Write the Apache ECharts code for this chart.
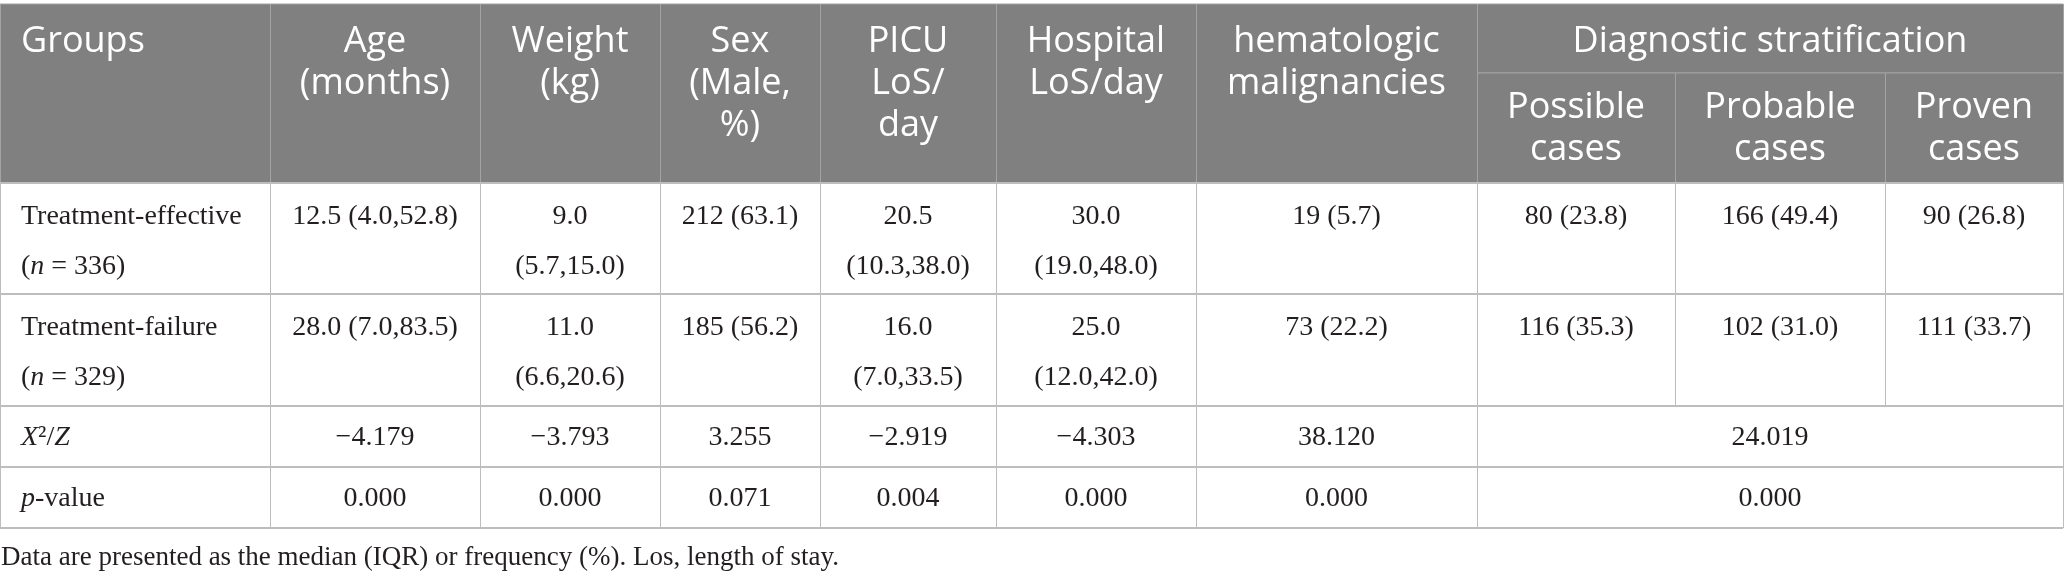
<!DOCTYPE html>
<html>
<head>
<meta charset="utf-8">
<title>Treatment groups table</title>
<script src="https://cdn.jsdelivr.net/npm/echarts@6/dist/echarts.min.js"></script>
<style>
	html, body { margin: 0; padding: 0; background: #fff; }
	#chart { width: 2065px; height: 581px; }
</style>
</head>
<body>
<div id="chart"></div>
<script>
	//------------------------数据-开始------------------//
	var headerTop = ['Groups', 'Age\n(months)', 'Weight\n(kg)', 'Sex\n(Male,\n%)', 'PICU\nLoS/\nday', 'Hospital\nLoS/day', 'hematologic\nmalignancies'];
	var spanHeader = 'Diagnostic stratification';
	var subHeaders = ['Possible\ncases', 'Probable\ncases', 'Proven\ncases'];
	var rowLabels = ['Treatment-effective\n({i|n} = 336)', 'Treatment-failure\n({i|n} = 329)', '{i|X}²/{i|Z}', '{i|p}-value'];
	var effectiveRow = ['12.5 (4.0,52.8)', '9.0\n(5.7,15.0)', '212 (63.1)', '20.5\n(10.3,38.0)', '30.0\n(19.0,48.0)', '19 (5.7)', '80 (23.8)', '166 (49.4)', '90 (26.8)'];
	var failureRow = ['28.0 (7.0,83.5)', '11.0\n(6.6,20.6)', '185 (56.2)', '16.0\n(7.0,33.5)', '25.0\n(12.0,42.0)', '73 (22.2)', '116 (35.3)', '102 (31.0)', '111 (33.7)'];
	var statRow = ['−4.179', '−3.793', '3.255', '−2.919', '−4.303', '38.120', '24.019'];
	var pRow = ['0.000', '0.000', '0.071', '0.004', '0.000', '0.000', '0.000'];
	var footnote = 'Data are presented as the median (IQR) or frequency (%). Los, length of stay.';
	//------------------------数据-结束------------------//

	// layout (pixel units of the hidden axes)
	var colEdges = [0, 270, 480, 660, 820, 996, 1196, 1477, 1675, 1885, 2063];
	var rowEdges = [4, 73, 183, 294, 406, 467, 528];

	var headFill = '#7f807f';
	var headLine = '#a2a3a2';
	var bodyLine = '#bdbdbd';
	var inkColor = '#231f20';
	var sansFont = 'Open Sans';
	var serifFont = 'Liberation Serif';

	// build cell list
	var cells = [];
	headerTop.forEach(function (t, i) {
		cells.push({ c0: i, c1: i + 1, r0: 0, r1: 2, text: t });
	});
	cells.push({ c0: 7, c1: 10, r0: 0, r1: 1, text: spanHeader });
	subHeaders.forEach(function (t, i) {
		cells.push({ c0: 7 + i, c1: 8 + i, r0: 1, r1: 2, text: t });
	});
	[effectiveRow, failureRow].forEach(function (row, k) {
		cells.push({ c0: 0, c1: 1, r0: 2 + k, r1: 3 + k, text: rowLabels[k] });
		row.forEach(function (t, i) {
			cells.push({ c0: 1 + i, c1: 2 + i, r0: 2 + k, r1: 3 + k, text: t });
		});
	});
	[statRow, pRow].forEach(function (row, k) {
		cells.push({ c0: 0, c1: 1, r0: 4 + k, r1: 5 + k, text: rowLabels[2 + k] });
		row.forEach(function (t, i) {
			var last = i === row.length - 1;
			cells.push({ c0: 1 + i, c1: last ? 10 : 2 + i, r0: 4 + k, r1: 5 + k, text: t });
		});
	});

	function renderCell(params, api)
	{
		var c = cells[params.dataIndex];
		var a = api.coord([colEdges[c.c0], rowEdges[c.r0]]);
		var b = api.coord([colEdges[c.c1], rowEdges[c.r1]]);
		var w = b[0] - a[0], h = b[1] - a[1];
		var head = c.r0 < 2;
		var lineColor = head ? headLine : bodyLine;
		var hw = head ? 1 : 2;
		var children = [{
			type: 'rect',
			shape: { x: a[0], y: a[1], width: w, height: h },
			style: { fill: head ? headFill : '#fff' }
		}];
		// borders
		children.push({ type: 'line', shape: { x1: a[0], y1: a[1], x2: b[0], y2: a[1] }, style: { stroke: lineColor, lineWidth: hw } });
		children.push({ type: 'line', shape: { x1: a[0], y1: b[1], x2: b[0], y2: b[1] }, style: { stroke: head && c.r1 < 2 ? headLine : bodyLine, lineWidth: head && c.r1 < 2 ? 1 : 2 } });
		children.push({ type: 'line', shape: { x1: a[0] + 0.5, y1: a[1], x2: a[0] + 0.5, y2: b[1] }, style: { stroke: lineColor, lineWidth: 1 } });
		children.push({ type: 'line', shape: { x1: b[0] + 0.5, y1: a[1], x2: b[0] + 0.5, y2: b[1] }, style: { stroke: lineColor, lineWidth: 1 } });

		var left = c.c0 === 0;
		var tx = left ? a[0] + 21 : a[0] + w / 2;
		var style;
		if (head) {
			style = {
				text: c.text, x: tx, y: a[1] + (c.r0 === 1 ? 14 : 17),
				fill: '#fff', fontFamily: sansFont, fontSize: 36, lineHeight: 42,
				align: left ? 'left' : 'center', verticalAlign: 'top'
			};
		} else {
			var tall = c.r0 < 4;
			style = {
				text: c.text, x: tx, y: tall ? a[1] + 9 : a[1] + h / 2 + 1,
				fill: inkColor, fontFamily: serifFont, fontSize: 28, lineHeight: 50,
				align: left ? 'left' : 'center', verticalAlign: tall ? 'top' : 'middle',
				rich: {
					i: { fontStyle: 'italic', fontFamily: serifFont, fontSize: 28, lineHeight: 50, fill: inkColor }
				}
			};
		}
		children.push({ type: 'text', style: style });
		return { type: 'group', children: children };
	}

	var option = {
		animation: false,
		title: {
			text: footnote,
			left: 1,
			top: 544,
			padding: 0,
			textStyle: { fontFamily: serifFont, fontSize: 27, fontWeight: 'normal', color: inkColor }
		},
		grid: { left: 0, right: 0, top: 0, bottom: 0 },
		xAxis: { type: 'value', min: 0, max: 2065, show: false },
		yAxis: { type: 'value', min: 0, max: 581, inverse: true, show: false },
		series: [{
			type: 'custom',
			renderItem: renderCell,
			data: cells.map(function (c, i) { return [i]; }),
			encode: { x: -1, y: -1 },
			silent: true
		}]
	};

	var myChart = echarts.init(document.getElementById('chart'));
	myChart.setOption(option);
</script>
</body>
</html>
